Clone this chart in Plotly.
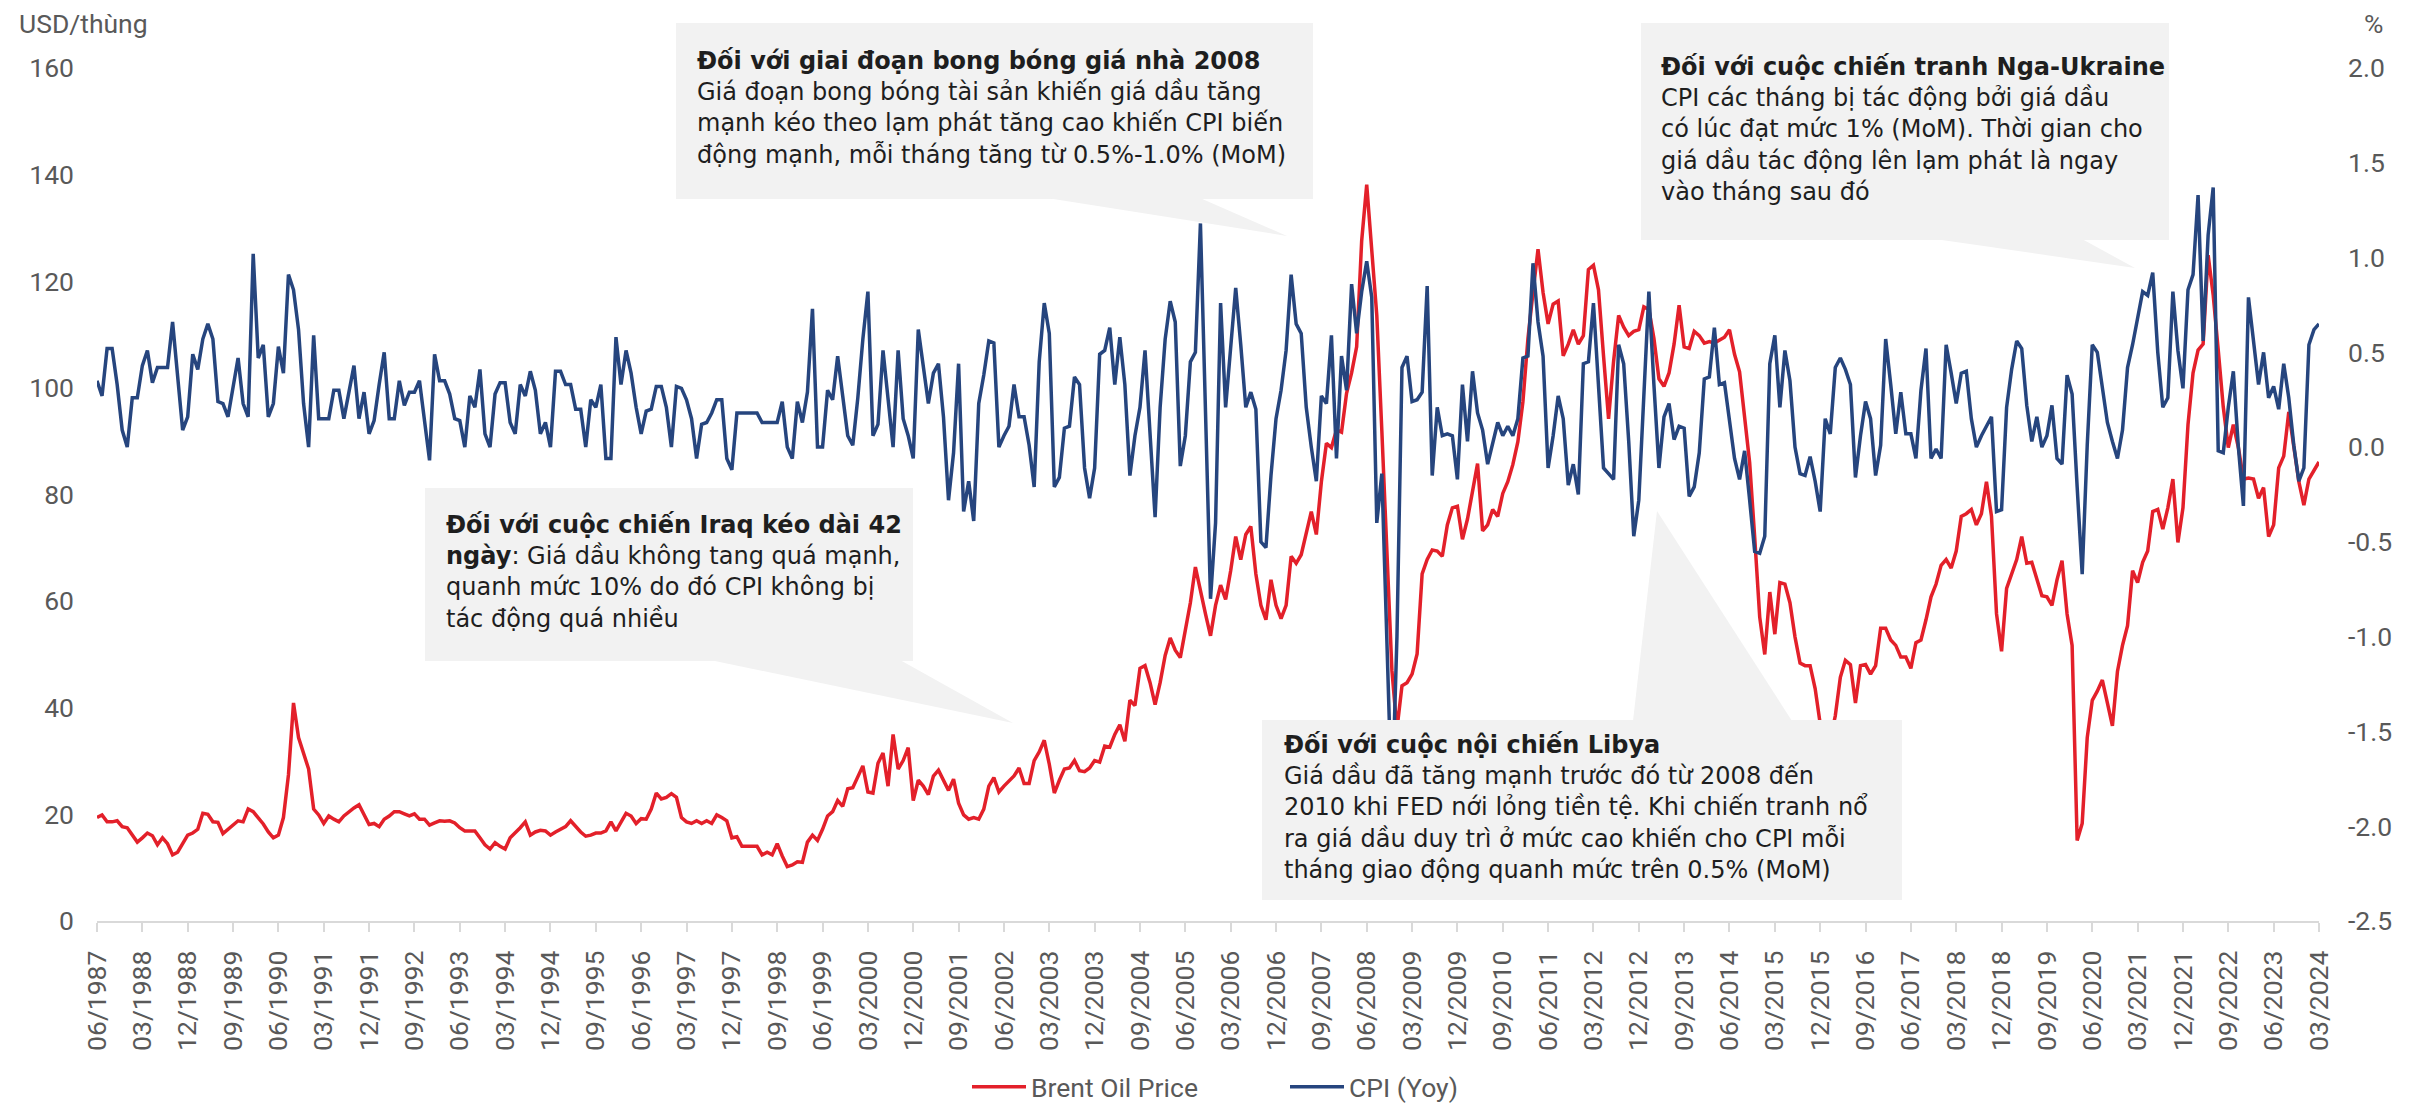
import plotly.graph_objects as go
import pandas as pd

# ---------------- data ----------------
months = pd.date_range("1987-06-01", "2024-03-01", freq="MS").strftime("%m/%Y").tolist()

brent_1987_1993 = [
    19.4, 19.9, 18.6, 18.6, 18.8, 17.7, 17.5, 16.1, 14.8, 15.6,
    16.5, 16.0, 14.3, 15.6, 14.5, 12.4, 12.9, 14.5, 16.1, 16.5,
    17.2, 20.2, 20.0, 18.6, 18.5, 16.4, 17.2, 18.1, 18.8, 18.6,
    21.0, 20.5, 19.4, 18.2, 16.7, 15.6, 16.1, 19.4, 27.4, 40.9,
    34.4, 31.2, 28.5, 21.0, 19.9, 18.3, 19.7, 19.1, 18.6, 19.7,
    20.5, 21.2, 21.8, 20.1, 18.1, 18.3, 17.7, 19.1, 19.7, 20.5,
    20.5, 20.1, 19.7, 20.1, 19.1, 19.1, 18.0, 18.4, 18.8, 18.7,
    18.8, 18.4, 17.5, 16.9, 16.9, 16.9]
brent_1993_1999 = [
    15.6, 14.3, 13.5, 14.7, 14.0, 13.5, 15.6, 16.5, 17.5, 18.6,
    16.1, 16.7, 17.0, 16.9, 16.1, 16.7, 17.2, 17.7, 18.8, 17.7,
    16.7, 15.9, 16.1, 16.5, 16.5, 16.9, 18.6, 16.9, 18.6, 20.2,
    19.7, 18.3, 19.2, 19.1, 21.0, 24.0, 22.9, 23.2, 23.9, 23.2,
    19.4, 18.6, 18.3, 18.8, 18.3, 18.8, 18.3, 19.9, 19.4, 18.8,
    15.6, 15.8, 14.0, 14.0, 14.0, 14.0, 12.4, 12.9, 12.4, 14.5,
    12.2, 10.2, 10.5, 11.1, 11.0, 14.8, 16.1, 15.1, 17.2, 19.7,
    20.5, 22.6, 21.5, 24.8]
brent_1999_2005 = [
    25.0, 27.1, 29.1, 24.2, 24.0, 29.6, 31.5, 25.3, 35.0, 28.5,
    30.1, 32.5, 22.6, 26.4, 25.3, 23.7, 27.2, 28.3, 26.4, 24.5,
    26.6, 22.1, 19.9, 19.1, 19.4, 19.1, 21.0, 25.3, 26.9, 24.2,
    25.3, 26.2, 27.2, 28.7, 25.8, 25.8, 30.1, 31.7, 33.9, 29.4,
    24.0, 26.4, 28.5, 28.7, 30.1, 28.2, 28.0, 28.7, 30.1, 29.8,
    32.8, 32.6, 35.0, 36.8, 33.7, 41.4, 40.4, 47.4, 47.9, 44.7,
    40.6, 44.7, 49.8, 53.1, 50.8, 49.4, 54.9, 59.7, 66.4, 61.7,
    57.6, 53.5]
brent_2005_2012 = [
    59.2, 63.0, 60.3, 65.7, 72.1, 67.8, 72.5, 74.0, 65.1, 59.2,
    56.5, 64.0, 59.2, 56.7, 59.2, 68.4, 67.1, 68.7, 72.5, 76.8,
    72.5, 82.4, 89.6, 88.8, 92.1, 91.7, 99.0, 102.8, 107.7, 127.6,
    138.1, 125.4, 113.6, 92.0, 68.4, 47.0, 36.0, 44.1, 44.7, 46.3,
    50.1, 65.1, 67.8, 69.6, 69.4, 68.4, 74.3, 77.5, 77.8, 71.6,
    75.4, 80.2, 85.8, 73.2, 74.3, 77.2, 75.9, 80.2, 82.4, 85.6,
    89.9, 97.4, 109.3, 117.9, 126.0, 117.9, 112.0, 115.7, 116.3, 106.0,
    108.2, 110.9, 108.2, 109.8, 122.2]
brent_2012_2017 = [
    123.0, 118.4, 106.0, 94.2, 105.0, 113.6, 111.4, 109.8, 110.6, 110.9,
    115.2, 114.7, 109.3, 101.7, 100.3, 102.8, 108.2, 115.5, 107.7, 107.4,
    110.6, 109.8, 108.4, 108.7, 108.4, 109.0, 109.5, 110.9, 106.3, 103.0,
    95.0, 86.0, 72.0, 57.0, 50.0, 61.7, 53.8, 63.5, 63.2, 59.7,
    53.3, 48.4, 47.9, 47.9, 43.6, 37.0, 33.0, 34.0, 38.5, 45.7,
    48.9, 48.1, 40.9, 47.9, 48.1, 46.3, 47.9, 54.9, 54.9, 52.7,
    51.7, 49.5, 49.5, 47.4, 52.2, 52.7, 56.5, 60.8, 63.2, 66.7]
brent_2018_2024 = [
    67.8, 66.2, 69.4, 75.9, 76.4, 77.2, 74.3, 76.4, 82.4, 75.9,
    57.6, 50.6, 62.4, 65.1, 67.8, 72.1, 67.1, 67.3, 64.0, 61.0,
    60.8, 59.2, 64.0, 67.6, 57.6, 51.7, 15.1, 18.3, 34.4, 41.4,
    43.1, 45.2, 40.9, 36.6, 46.8, 51.7, 55.4, 65.7, 63.5, 67.3,
    69.4, 76.8, 77.2, 73.5, 77.5, 82.9, 71.0, 77.5, 93.1, 102.8,
    107.1, 108.2, 124.9, 117.4, 107.1, 96.4, 88.8, 93.1, 88.8, 82.9,
    83.1, 82.9, 79.3, 81.3, 72.1, 74.3, 85.0, 87.2, 95.5, 88.8,
    82.4, 78.0, 82.9, 84.5, 86.1]

cpi_1987_1993 = [
    0.35, 0.27, 0.52, 0.52, 0.33, 0.09, 0.00, 0.26, 0.26, 0.43,
    0.51, 0.34, 0.42, 0.42, 0.42, 0.66, 0.36, 0.09, 0.16, 0.49,
    0.41, 0.57, 0.65, 0.57, 0.24, 0.23, 0.16, 0.32, 0.47, 0.23,
    0.16, 1.02, 0.47, 0.54, 0.16, 0.23, 0.53, 0.39, 0.91, 0.83,
    0.62, 0.23, 0.00, 0.59, 0.15, 0.15, 0.15, 0.30, 0.30, 0.15,
    0.30, 0.43, 0.15, 0.29, 0.07, 0.14, 0.33, 0.50, 0.15, 0.15,
    0.35, 0.22, 0.29, 0.29, 0.35, 0.15, -0.07, 0.49, 0.35, 0.35,
    0.28, 0.15, 0.14, 0.00, 0.27, 0.21]
cpi_1993_1999 = [
    0.41, 0.07, 0.00, 0.28, 0.34, 0.34, 0.13, 0.07, 0.33, 0.27,
    0.40, 0.30, 0.07, 0.13, 0.00, 0.40, 0.40, 0.33, 0.33, 0.20,
    0.20, 0.00, 0.25, 0.21, 0.33, -0.06, -0.06, 0.58, 0.33, 0.51,
    0.39, 0.21, 0.07, 0.19, 0.20, 0.32, 0.32, 0.21, 0.00, 0.32,
    0.31, 0.25, 0.15, -0.06, 0.12, 0.13, 0.18, 0.25, 0.25, -0.06,
    -0.12, 0.18, 0.18, 0.18, 0.18, 0.18, 0.13, 0.13, 0.13, 0.13,
    0.24, 0.00, -0.06, 0.24, 0.13, 0.29, 0.73, 0.00, 0.00, 0.30,
    0.25, 0.48, 0.27, 0.06]
cpi_1999_2005 = [
    0.01, 0.26, 0.57, 0.82, 0.06, 0.12, 0.51, 0.26, 0.00, 0.51,
    0.15, 0.06, -0.06, 0.62, 0.42, 0.23, 0.39, 0.44, 0.16, -0.28,
    -0.03, 0.44, -0.34, -0.18, -0.39, 0.23, 0.38, 0.56, 0.55, 0.00,
    0.06, 0.11, 0.33, 0.16, 0.16, 0.01, -0.21, 0.45, 0.76, 0.60,
    -0.21, -0.16, 0.10, 0.11, 0.37, 0.33, -0.11, -0.27, -0.11, 0.49,
    0.51, 0.63, 0.33, 0.58, 0.33, -0.15, 0.06, 0.21, 0.51, 0.09,
    -0.37, 0.21, 0.57, 0.77, 0.66, -0.10, 0.06, 0.45, 0.50, 1.18,
    0.18, -0.80]
cpi_2005_2012 = [
    -0.40, 0.76, 0.21, 0.51, 0.84, 0.54, 0.21, 0.29, 0.20, -0.50,
    -0.53, -0.15, 0.15, 0.30, 0.51, 0.91, 0.65, 0.60, 0.21, 0.00,
    -0.18, 0.27, 0.23, 0.59, -0.06, 0.48, 0.30, 0.86, 0.60, 0.82,
    0.98, 0.79, -0.40, -0.14, -1.00, -1.90, -1.00, 0.42, 0.48, 0.24,
    0.25, 0.29, 0.85, -0.15, 0.21, 0.06, 0.07, 0.06, -0.17, 0.33,
    0.03, 0.40, 0.18, 0.09, -0.09, 0.03, 0.13, 0.06, 0.11, 0.06,
    0.15, 0.47, 0.48, 0.97, 0.66, 0.48, -0.11, 0.06, 0.27, 0.15,
    -0.20, -0.09, -0.25, 0.44, 0.45]
cpi_2012_2017 = [
    0.76, 0.33, -0.11, -0.14, -0.17, 0.54, 0.44, 0.03, -0.47, -0.28,
    0.27, 0.82, 0.33, -0.11, 0.16, 0.23, 0.04, 0.11, 0.10, -0.26,
    -0.21, -0.03, 0.36, 0.37, 0.63, 0.33, 0.34, 0.13, -0.06, -0.17,
    -0.02, -0.28, -0.55, -0.56, -0.47, 0.44, 0.59, 0.21, 0.51, 0.35,
    0.00, -0.14, -0.15, -0.05, -0.18, -0.34, 0.15, 0.07, 0.42, 0.47,
    0.41, 0.33, -0.16, 0.06, 0.24, 0.15, -0.15, 0.01, 0.57, 0.33,
    0.07, 0.29, 0.07, 0.07, -0.06, 0.30, 0.52, -0.06, -0.01, -0.06]
cpi_2018_2024 = [
    0.54, 0.39, 0.23, 0.39, 0.40, 0.15, 0.00, 0.06, 0.11, 0.16,
    -0.34, -0.33, 0.21, 0.41, 0.56, 0.52, 0.22, 0.03, 0.16, 0.00,
    0.06, 0.22, -0.06, -0.09, 0.38, 0.28, -0.21, -0.67, 0.01, 0.54,
    0.50, 0.30, 0.13, 0.03, -0.06, 0.09, 0.42, 0.54, 0.69, 0.82,
    0.80, 0.92, 0.50, 0.21, 0.26, 0.82, 0.51, 0.31, 0.83, 0.91,
    1.33, 0.56, 1.12, 1.37, -0.02, -0.03, 0.21, 0.40, 0.00, -0.31,
    0.79, 0.57, 0.33, 0.50, 0.26, 0.32, 0.20, 0.44, 0.26, 0.01,
    -0.18, -0.11, 0.54, 0.62, 0.65]

brent_price = (brent_1987_1993 + brent_1993_1999 + brent_1999_2005 +
               brent_2005_2012 + brent_2012_2017 + brent_2018_2024)
cpi_mom = (cpi_1987_1993 + cpi_1993_1999 + cpi_1999_2005 +
           cpi_2005_2012 + cpi_2012_2017 + cpi_2018_2024)

left_ticks = [0, 20, 40, 60, 80, 100, 120, 140, 160]
right_ticks = [-2.5, -2.0, -1.5, -1.0, -0.5, 0.0, 0.5, 1.0, 1.5, 2.0]
right_tick_text = ["-2.5", "-2.0", "-1.5", "-1.0", "-0.5", "0.0", "0.5", "1.0", "1.5", "2.0"]
x_tick_labels = months[::9]

# ---------------- layout geometry ----------------
# the page body has an 8px margin, so the figure is 8px smaller than the window
W, H = 2417, 1099
L, R, T, B = 89, 106, 60, 186
PW, PH = W - L - R, H - T - B
PLOT_LEFT, PLOT_BOTTOM = 97, 921   # in screenshot pixels

def px(x):   # screenshot x -> paper
    return (x - PLOT_LEFT) / PW

def py(y):   # screenshot y -> paper
    return (PLOT_BOTTOM - y) / PH

RED = "#E3202A"
BLUE = "#26457E"
GRAY = "#595959"
BOX = "#F2F2F2"
AXFONT = dict(family="Roboto, Arial, sans-serif", size=26.5, color=GRAY)
NOTEFONT = dict(family="DejaVu Sans, Verdana, sans-serif", size=24, color="#1E1E1E")

fig = go.Figure()
fig.add_trace(go.Scatter(x=months, y=brent_price, name="Brent Oil Price", mode="lines",
                         line=dict(color=RED, width=3.5), yaxis="y"))
fig.add_trace(go.Scatter(x=months, y=cpi_mom, name="CPI (Yoy)", mode="lines",
                         line=dict(color=BLUE, width=3.5), yaxis="y2"))

shapes = []
def rect(x0, y0, x1, y1):
    shapes.append(dict(type="rect", xref="paper", yref="paper", x0=px(x0), x1=px(x1),
                       y0=py(y1), y1=py(y0), fillcolor=BOX, line=dict(width=0), layer="above"))

def tri(pts):
    p = "M " + " L ".join(f"{px(a):.5f},{py(b):.5f}" for a, b in pts) + " Z"
    shapes.append(dict(type="path", xref="paper", yref="paper", path=p,
                       fillcolor=BOX, line=dict(width=0), layer="above"))

# callout boxes + pointers
rect(425, 488, 913, 661)
tri([(710, 660), (900, 660), (1013, 723)])
rect(676, 23, 1313, 199)
tri([(1047, 198), (1200, 198), (1287, 236)])
rect(1262, 720, 1902, 900)
tri([(1633, 721), (1792, 721), (1657, 511)])
rect(1641, 23, 2169, 240)
tri([(1935, 239), (2082, 239), (2135, 268)])

notes = [
    (445, 510, "<b>Đối với cuộc chiến Iraq kéo dài 42</b><br><b>ngày</b>: Giá dầu không tang quá mạnh,"
               "<br>quanh mức 10% do đó CPI không bị<br>tác động quá nhiều"),
    (696, 46, "<b>Đối với giai đoạn bong bóng giá nhà 2008</b><br>Giá đoạn bong bóng tài sản khiến giá dầu tăng"
              "<br>mạnh kéo theo lạm phát tăng cao khiến CPI biến<br>động mạnh, mỗi tháng tăng từ 0.5%-1.0% (MoM)"),
    (1283, 730, "<b>Đối với cuộc nội chiến Libya</b><br>Giá dầu đã tăng mạnh trước đó từ 2008 đến"
                "<br>2010 khi FED nới lỏng tiền tệ. Khi chiến tranh nổ<br>ra giá dầu duy trì ở mức cao khiến cho CPI mỗi"
                "<br>tháng giao động quanh mức trên 0.5% (MoM)"),
    (1660, 52, "<b>Đối với cuộc chiến tranh Nga-Ukraine</b><br>CPI các tháng bị tác động bởi giá dầu"
               "<br>có lúc đạt mức 1% (MoM). Thời gian cho<br>giá dầu tác động lên lạm phát là ngay"
               "<br>vào tháng sau đó"),
]
annotations = []
for x, y, t in notes:
    annotations.append(dict(x=px(x), y=py(y), xref="paper", yref="paper", text=t, showarrow=False,
                            xanchor="left", yanchor="top", align="left", font=NOTEFONT, borderpad=0))
annotations.append(dict(x=px(17), y=py(24), xref="paper", yref="paper", text="USD/thùng",
                        showarrow=False, xanchor="left", yanchor="middle", font=AXFONT))
annotations.append(dict(x=px(2373), y=py(24), xref="paper", yref="paper", text="%",
                        showarrow=False, xanchor="center", yanchor="middle", font=AXFONT))

fig.update_layout(
    width=W, height=H,
    margin=dict(l=L, r=R, t=T, b=B, autoexpand=False),
    paper_bgcolor="white", plot_bgcolor="white",
    shapes=shapes, annotations=annotations,
    showlegend=True,
    legend=dict(orientation="h", x=px(967), y=py(1087), xanchor="left", yanchor="middle",
                font=AXFONT, itemwidth=54, entrywidth=249, entrywidthmode="pixels",
                bgcolor="rgba(0,0,0,0)"),
    xaxis=dict(type="category", range=[0, len(months) - 1], tickmode="array",
               tickvals=x_tick_labels, ticktext=x_tick_labels, tickangle=-90,
               showline=True, linecolor="#D9D9D9", linewidth=2, ticks="outside",
               ticklen=9, tickwidth=2, tickcolor="#D9D9D9", showgrid=False, zeroline=False,
               tickfont=AXFONT, ticklabelstandoff=8),
    yaxis=dict(range=[0, 160], tickmode="array", tickvals=left_ticks, showgrid=False,
               zeroline=False, showline=False, tickfont=AXFONT, ticklabelstandoff=22),
    yaxis2=dict(range=[-2.5, 2.0], overlaying="y", side="right", tickmode="array",
                tickvals=right_ticks, ticktext=right_tick_text, showgrid=False,
                zeroline=False, showline=False, tickfont=AXFONT, ticklabelstandoff=28),
)

fig.write_html("out.html")
